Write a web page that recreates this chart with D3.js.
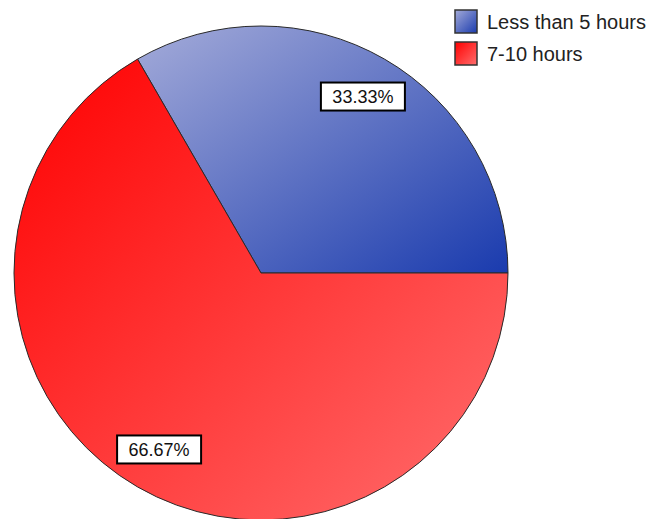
<!DOCTYPE html>
<html><head><meta charset="utf-8">
<script src="https://cdn.jsdelivr.net/npm/d3@7"></script>
<style>body{margin:0;background:#fff}svg{display:block}</style>
</head><body>
<svg id="c" width="655" height="519"></svg>
<script>
const categories = ["Less than 5 hours", "7-10 hours"];
const values = [33.33, 66.67];
const labels = ["33.33%", "66.67%"];
const gradStops = [["#a4abd9", "#1a3bae"], ["#ff0000", "#ff6e6e"]];

const svg = d3.select("#c");
const cx = 261, cy = 273, r = 247;
const font = "'Liberation Sans', Arial, sans-serif";

const defs = svg.append("defs");
gradStops.forEach((s, i) => {
  const g = defs.append("linearGradient").attr("id", "g" + i)
    .attr("x1", 0).attr("y1", 0).attr("x2", 1).attr("y2", 1);
  g.append("stop").attr("offset", 0).attr("stop-color", s[0]);
  g.append("stop").attr("offset", 1).attr("stop-color", s[1]);
});

// first slice starts at 3 o'clock and runs counterclockwise
const arcsData = d3.pie().sort(null).value(d => d)
  .startAngle(Math.PI / 2).endAngle(Math.PI / 2 - 2 * Math.PI)(values);

const arc = d3.arc().innerRadius(0).outerRadius(r);
const g = svg.append("g").attr("transform", `translate(${cx},${cy})`);
g.selectAll("path").data(arcsData).join("path")
  .attr("d", arc)
  .attr("fill", (d, i) => `url(#g${i})`)
  .attr("stroke", "#2a2a2a").attr("stroke-width", 1);

const labArc = d3.arc().innerRadius(r * 0.825).outerRadius(r * 0.825);
const lg = g.selectAll("g.lab").data(arcsData).join("g").attr("class", "lab")
  .attr("transform", d => `translate(${labArc.centroid(d)})`);
lg.append("rect").attr("x", -42).attr("y", -14).attr("width", 84).attr("height", 28)
  .attr("fill", "#fff").attr("stroke", "#000").attr("stroke-width", 2);
lg.append("text").text((d, i) => labels[i])
  .attr("text-anchor", "middle").attr("dy", "0.35em")
  .attr("font-family", font).attr("font-size", 18).attr("fill", "#111");

const leg = svg.append("g").attr("transform", "translate(455,10)");
const li = leg.selectAll("g").data(categories).join("g")
  .attr("transform", (d, i) => `translate(0,${i * 32})`);
li.append("rect").attr("width", 22).attr("height", 23)
  .attr("fill", (d, i) => `url(#g${i})`).attr("stroke", "#333").attr("stroke-width", 1.5);
li.append("text").text(d => d).attr("x", 32).attr("y", 12).attr("dy", "0.35em")
  .attr("font-family", font).attr("font-size", 20).attr("fill", "#222");
</script>
</body></html>
